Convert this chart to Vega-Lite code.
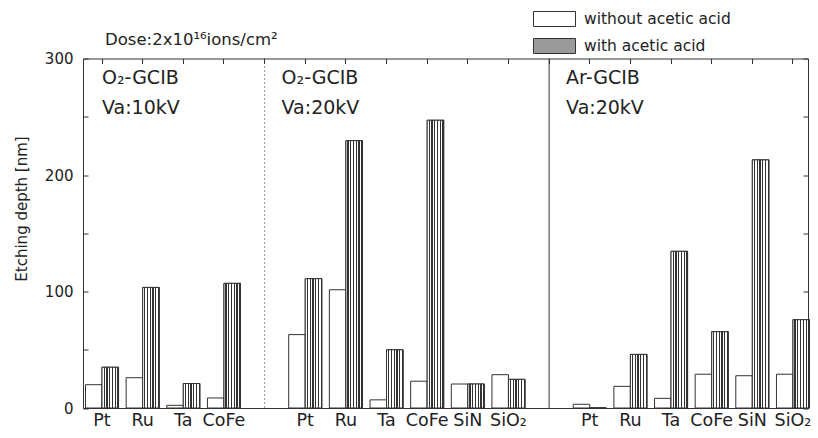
{
  "$schema": "https://vega.github.io/schema/vega-lite/v6.json",
  "width": 725,
  "height": 349.5,
  "autosize": {"type": "none"},
  "padding": {"left": 83, "top": 58.5, "right": 10, "bottom": 30},
  "background": "white",
  "config": {
    "font": "DejaVu Sans",
    "view": {"stroke": "#333", "strokeWidth": 1},
    "axis": {"labelColor": "#222", "titleColor": "#222", "tickColor": "#333", "domain": false, "grid": false},
    "axisLeft": {"titleFontSize": 15, "titleFontWeight": "normal", "titleAngle": -90, "titleX": -56.5, "titleY": 150, "titleAlign": "center", "titleBaseline": "alphabetic"},
    "legend": {"labelColor": "#222"}
  },
  "datasets": {
    "etch": [
      {"group": "a", "material": "Pt", "acid": "without acetic acid", "depth": 20},
      {"group": "a", "material": "Pt", "acid": "with acetic acid", "depth": 35},
      {"group": "a", "material": "Ru", "acid": "without acetic acid", "depth": 26},
      {"group": "a", "material": "Ru", "acid": "with acetic acid", "depth": 103.5},
      {"group": "a", "material": "Ta", "acid": "without acetic acid", "depth": 2.3},
      {"group": "a", "material": "Ta", "acid": "with acetic acid", "depth": 21},
      {"group": "a", "material": "CoFe", "acid": "without acetic acid", "depth": 8.6},
      {"group": "a", "material": "CoFe", "acid": "with acetic acid", "depth": 107},
      {"group": "b", "material": "Pt", "acid": "without acetic acid", "depth": 63},
      {"group": "b", "material": "Pt", "acid": "with acetic acid", "depth": 111},
      {"group": "b", "material": "Ru", "acid": "without acetic acid", "depth": 101.5},
      {"group": "b", "material": "Ru", "acid": "with acetic acid", "depth": 229.5},
      {"group": "b", "material": "Ta", "acid": "without acetic acid", "depth": 7},
      {"group": "b", "material": "Ta", "acid": "with acetic acid", "depth": 50},
      {"group": "b", "material": "CoFe", "acid": "without acetic acid", "depth": 23},
      {"group": "b", "material": "CoFe", "acid": "with acetic acid", "depth": 247},
      {"group": "b", "material": "SiN", "acid": "without acetic acid", "depth": 20.6},
      {"group": "b", "material": "SiN", "acid": "with acetic acid", "depth": 20.6},
      {"group": "b", "material": "SiO₂", "acid": "without acetic acid", "depth": 28.6},
      {"group": "b", "material": "SiO₂", "acid": "with acetic acid", "depth": 24.6},
      {"group": "c", "material": "Pt", "acid": "without acetic acid", "depth": 3.2},
      {"group": "c", "material": "Pt", "acid": "with acetic acid", "depth": 0},
      {"group": "c", "material": "Ru", "acid": "without acetic acid", "depth": 18.6},
      {"group": "c", "material": "Ru", "acid": "with acetic acid", "depth": 46},
      {"group": "c", "material": "Ta", "acid": "without acetic acid", "depth": 8.3},
      {"group": "c", "material": "Ta", "acid": "with acetic acid", "depth": 134.5},
      {"group": "c", "material": "CoFe", "acid": "without acetic acid", "depth": 29},
      {"group": "c", "material": "CoFe", "acid": "with acetic acid", "depth": 65.5},
      {"group": "c", "material": "SiN", "acid": "without acetic acid", "depth": 27.7},
      {"group": "c", "material": "SiN", "acid": "with acetic acid", "depth": 213},
      {"group": "c", "material": "SiO₂", "acid": "without acetic acid", "depth": 29},
      {"group": "c", "material": "SiO₂", "acid": "with acetic acid", "depth": 75.8}
    ]
  },
  "resolve": {"axis": {"x": "independent", "y": "independent"}},
  "layer": [
    {
      "data": {"name": "etch"},
      "transform": [{"calculate": "datum.material + '|' + datum.group", "as": "k"}],
      "mark": {"type": "bar", "strokeWidth": 1, "opacity": 1},
      "encoding": {
        "x": {
          "field": "k", "type": "nominal",
          "scale": {
            "domain": ["Pt|a","Ru|a","Ta|a","CoFe|a","|d1","Pt|b","Ru|b","Ta|b","CoFe|b","SiN|b","SiO₂|b","|d2","Pt|c","Ru|c","Ta|c","CoFe|c","SiN|c","SiO₂|c"],
            "range": [-1.3, 730.3],
            "paddingInner": 0, "paddingOuter": 0
          },
          "axis": {"orient": "bottom", "title": null, "ticks": false, "labelAngle": 0, "labelPadding": 3, "labelFontSize": 17.5, "labelExpr": "split(datum.value,'|')[0]"}
        },
        "xOffset": {
          "field": "acid", "type": "nominal",
          "scale": {"domain": ["without acetic acid", "with acetic acid"], "paddingOuter": 0.23, "paddingInner": 0}
        },
        "y": {
          "field": "depth", "type": "quantitative",
          "scale": {"domain": [0, 300], "nice": false},
          "axis": {
            "orient": "left", "title": "Etching depth [nm]", "titleFontSize": 15, "titleFontWeight": "normal",
            "titleAngle": -90, "titleX": -56.5, "titleY": 150, "titleAlign": "center", "titleBaseline": "alphabetic",
            "values": [0, 50, 100, 150, 200, 250, 300],
            "labelExpr": "datum.value % 100 == 0 ? datum.label : ''",
            "tickSize": -5, "labelPadding": 15, "labelFontSize": 15
          }
        },
        "fill": {
          "field": "acid", "type": "nominal",
          "scale": {"domain": ["without acetic acid", "with acetic acid"], "range": ["#ffffff", "#9a9a9a"]},
          "legend": {
            "orient": "none", "legendX": 463.5, "legendY": -47.5, "title": null, "padding": 0,
            "symbolType": "M-2.8,-1H2.8V1H-2.8Z", "symbolSize": 225, "symbolStrokeWidth": 1, "symbolOpacity": 1,
            "labelOffset": 21.5, "rowPadding": 7, "labelFontSize": 15.5
          }
        },
        "stroke": {
          "field": "acid", "type": "nominal",
          "scale": {"domain": ["without acetic acid", "with acetic acid"], "range": ["#333333", "#333333"]},
          "legend": {
            "orient": "none", "legendX": 463.5, "legendY": -47.5, "title": null, "padding": 0,
            "symbolType": "M-2.8,-1H2.8V1H-2.8Z", "symbolSize": 225, "symbolStrokeWidth": 1, "symbolOpacity": 1,
            "labelOffset": 21.5, "rowPadding": 7, "labelFontSize": 15.5
          }
        }
      }
    },
    {
      "data": {"name": "etch"},
      "transform": [
        {"filter": "datum.acid == 'with acetic acid'"},
        {"calculate": "datum.material + '|' + datum.group", "as": "k"}
      ],
      "mark": {
        "type": "bar", "stroke": "#333", "strokeWidth": 1, "opacity": 1,
        "fill": {
          "gradient": "linear", "x1": 0, "y1": 0, "x2": 1, "y2": 0,
          "stops": [
            {"offset": 0, "color": "#ffffff"}, {"offset": 0.0917, "color": "#ffffff"},
            {"offset": 0.0917, "color": "#333333"}, {"offset": 0.1667, "color": "#333333"},
            {"offset": 0.1667, "color": "#ffffff"}, {"offset": 0.2583, "color": "#ffffff"},
            {"offset": 0.2583, "color": "#333333"}, {"offset": 0.3333, "color": "#333333"},
            {"offset": 0.3333, "color": "#ffffff"}, {"offset": 0.425, "color": "#ffffff"},
            {"offset": 0.425, "color": "#333333"}, {"offset": 0.5, "color": "#333333"},
            {"offset": 0.5, "color": "#ffffff"}, {"offset": 0.5917, "color": "#ffffff"},
            {"offset": 0.5917, "color": "#333333"}, {"offset": 0.6667, "color": "#333333"},
            {"offset": 0.6667, "color": "#ffffff"}, {"offset": 0.7583, "color": "#ffffff"},
            {"offset": 0.7583, "color": "#333333"}, {"offset": 0.8333, "color": "#333333"},
            {"offset": 0.8333, "color": "#ffffff"}, {"offset": 0.925, "color": "#ffffff"},
            {"offset": 0.925, "color": "#333333"}, {"offset": 1, "color": "#333333"}
          ]
        }
      },
      "encoding": {
        "x": {"field": "k", "type": "nominal", "axis": null},
        "xOffset": {"field": "acid", "type": "nominal"},
        "y": {"field": "depth", "type": "quantitative", "axis": null}
      }
    },
    {
      "data": {"values": [{"k": "|d1"}]},
      "mark": {"type": "rule", "stroke": "#333", "strokeWidth": 1, "strokeDash": [1, 3]},
      "encoding": {
        "x": {"field": "k", "type": "nominal", "axis": {"orient": "top", "title": null, "labels": false, "ticks": true, "tickSize": -5}}
      }
    },
    {
      "data": {"values": [{"k": "|d2"}]},
      "mark": {"type": "rule", "stroke": "#333", "strokeWidth": 1},
      "encoding": {
        "x": {"field": "k", "type": "nominal", "axis": null}
      }
    },
    {
      "data": {"values": [
        {"k": "Pt|a", "v": 283.3, "t": "O₂-GCIB"},
        {"k": "Pt|a", "v": 257.5, "t": "Va:10kV"}
      ]},
      "mark": {"type": "text", "align": "left", "baseline": "middle", "fontSize": 19, "color": "#222"},
      "encoding": {
        "x": {"field": "k", "type": "nominal", "axis": null},
        "y": {"field": "v", "type": "quantitative", "axis": {"orient": "right", "title": null, "labels": false, "values": [0, 50, 100, 150, 200, 250, 300], "tickSize": -5}},
        "text": {"field": "t"}
      }
    },
    {
      "data": {"values": [
        {"k": "|d1", "v": 283.3, "t": "O₂-GCIB"},
        {"k": "|d1", "v": 257.5, "t": "Va:20kV"},
        {"k": "|d2", "v": 283.3, "t": "Ar-GCIB"},
        {"k": "|d2", "v": 257.5, "t": "Va:20kV"}
      ]},
      "mark": {"type": "text", "align": "left", "baseline": "middle", "fontSize": 19, "color": "#222", "dx": 17},
      "encoding": {
        "x": {"field": "k", "type": "nominal", "axis": null},
        "y": {"field": "v", "type": "quantitative", "axis": null},
        "text": {"field": "t"}
      }
    },
    {
      "data": {"values": [
        {"k": "Pt|a", "v": 311.6, "t": "Dose:2x10¹⁶ions/cm²"}
      ]},
      "mark": {"type": "text", "align": "left", "baseline": "alphabetic", "fontSize": 16.5, "color": "#222", "dx": 3},
      "encoding": {
        "x": {"field": "k", "type": "nominal", "axis": null},
        "y": {"field": "v", "type": "quantitative", "axis": null},
        "text": {"field": "t"}
      }
    }
  ]
}
